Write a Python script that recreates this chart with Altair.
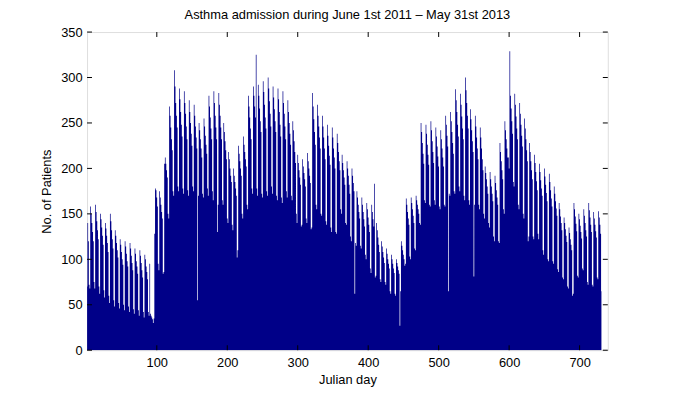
import altair as alt
import pandas as pd

# Daily asthma admissions, day 1 = June 1st 2011
days_001_096 = [
    70, 140, 120, 72, 68,
    158, 150, 140, 130, 120, 75, 68,
    160, 152, 142, 132, 122, 70, 62,
    150, 144, 135, 126, 116, 66, 58,
    140, 134, 126, 118, 108, 60, 52,
    150, 142, 132, 122, 112, 55, 48,
    132, 126, 118, 110, 102, 52, 46,
    122, 116, 108, 100, 94, 50, 44,
    120, 114, 106, 98, 92, 48, 42,
    118, 112, 104, 96, 88, 45, 40,
    112, 106, 98, 92, 84, 44, 38,
    110, 104, 96, 88, 80, 42, 36,
    105, 100, 92, 86, 78, 42, 38,
    95, 40, 38, 36, 34, 30, 35,
]
days_097_187 = [
    128, 178, 176, 168, 158, 95, 88,
    175, 168, 160, 152, 145, 84, 86,
    205, 212, 205, 198, 190, 150, 145,
    268, 258, 245, 232, 220, 175, 170,
    308, 290, 272, 258, 245, 180, 175,
    288, 276, 262, 248, 235, 178, 172,
    285, 272, 260, 246, 232, 176, 170,
    275, 262, 250, 238, 225, 180, 175,
    270, 258, 246, 234, 222, 55, 170,
    250, 242, 232, 222, 212, 172, 168,
    255, 246, 236, 226, 216, 178, 170,
    280, 268, 256, 244, 232, 175, 165,
    285, 272, 258, 245, 232, 130, 160,
]
days_188_278 = [
    283, 270, 258, 245, 232, 165, 160,
    250, 240, 230, 220, 210, 145, 140,
    218, 210, 200, 192, 185, 138, 132,
    200, 192, 185, 178, 170, 102, 110,
    225, 216, 208, 200, 192, 150, 145,
    235, 226, 218, 210, 202, 160, 155,
    280, 268, 256, 244, 232, 178, 172,
    290, 280, 268, 256, 325, 178, 170,
    292, 280, 266, 252, 240, 172, 168,
    296, 284, 270, 256, 244, 175, 170,
    300, 288, 274, 260, 246, 180, 172,
    290, 278, 265, 252, 240, 170, 165,
    288, 276, 262, 248, 235, 168, 162,
]
days_279_369 = [
    285, 272, 260, 246, 232, 175, 168,
    275, 262, 250, 238, 226, 170, 165,
    252, 242, 230, 218, 206, 150, 140,
    215, 206, 198, 190, 182, 136, 138,
    210, 202, 195, 188, 180, 145, 140,
    217, 208, 200, 192, 184, 133, 135,
    283, 268, 254, 240, 226, 160, 155,
    270, 258, 246, 234, 222, 150, 148,
    258, 246, 234, 222, 210, 142, 138,
    248, 236, 225, 214, 204, 135, 130,
    245, 234, 222, 212, 200, 130, 128,
    238, 228, 218, 208, 198, 155, 150,
    215, 206, 198, 190, 182, 140, 138,
]
days_370_460 = [
    208, 200, 192, 182, 172, 125, 120,
    200, 192, 184, 175, 62, 118, 115,
    175, 168, 160, 152, 145, 115, 112,
    168, 160, 152, 144, 136, 105, 100,
    162, 155, 146, 138, 130, 90, 85,
    160, 152, 144, 136, 183, 80, 82,
    140, 132, 124, 116, 108, 78, 75,
    120, 114, 108, 102, 96, 75, 72,
    112, 106, 100, 95, 90, 65, 62,
    105, 100, 95, 90, 85, 62, 60,
    100, 96, 92, 88, 84, 27, 65,
    120, 115, 110, 105, 100, 93, 95,
    167, 160, 152, 145, 138, 103, 100,
]
days_461_551 = [
    168, 162, 155, 148, 140, 112, 110,
    170, 165, 160, 155, 150, 140, 138,
    250, 240, 228, 216, 205, 165, 162,
    248, 238, 226, 215, 204, 160, 158,
    252, 242, 230, 218, 206, 165, 160,
    245, 235, 224, 213, 202, 158, 155,
    242, 232, 222, 212, 202, 160, 158,
    258, 248, 236, 224, 65, 172, 170,
    262, 252, 240, 228, 216, 175, 172,
    287, 275, 262, 248, 235, 180, 175,
    282, 270, 257, 244, 232, 170, 165,
    300, 286, 272, 258, 244, 165, 160,
    265, 254, 242, 230, 218, 81, 160,
]
days_552_642 = [
    258, 246, 234, 222, 210, 160, 155,
    245, 234, 222, 210, 198, 150, 145,
    202, 195, 188, 180, 172, 140, 135,
    196, 188, 180, 172, 164, 125, 120,
    192, 184, 176, 168, 160, 120, 118,
    228, 218, 208, 198, 188, 155, 150,
    252, 242, 232, 222, 212, 212, 200,
    329, 280, 266, 252, 238, 185, 180,
    282, 270, 257, 244, 232, 160, 155,
    272, 260, 248, 236, 224, 150, 145,
    255, 244, 232, 220, 208, 120, 125,
    228, 218, 208, 198, 188, 125, 122,
    215, 206, 196, 186, 176, 128, 122,
]
days_643_731 = [
    205, 196, 187, 178, 170, 110, 105,
    200, 191, 182, 173, 164, 100, 98,
    194, 185, 176, 167, 158, 98, 95,
    180, 172, 164, 156, 148, 89, 86,
    162, 155, 147, 140, 132, 80, 78,
    146, 140, 133, 126, 119, 70, 68,
    135, 129, 122, 116, 110, 60, 62,
    162, 155, 147, 139, 131, 82, 80,
    150, 144, 137, 130, 123, 90, 88,
    155, 148, 140, 132, 125, 75, 72,
    162, 154, 146, 138, 130, 72, 70,
    152, 145, 138, 131, 124, 80, 78,
    153, 146, 138, 128, 65,
]

x_ticks = [100, 200, 300, 400, 500, 600, 700]
y_ticks = [0, 50, 100, 150, 200, 250, 300, 350]

patients = (days_001_096 + days_097_187 + days_188_278 + days_279_369
            + days_370_460 + days_461_551 + days_552_642 + days_643_731)
df = pd.DataFrame({"day": list(range(1, len(patients) + 1)), "patients": patients})
xt = pd.DataFrame({"t": x_ticks})
yt = pd.DataFrame({"t": y_ticks})

FONT = "Liberation Sans"
NAVY = "#000088"
W, H, TICK = 527, 322, 5

xscale = alt.Scale(domain=[1, 740], nice=False, zero=False)
yscale = alt.Scale(domain=[0, 350], nice=False)

axis_style = dict(ticks=False, domain=False, grid=False,
                  labelFont=FONT, labelFontSize=13, labelColor="black",
                  titleFont=FONT, titleFontSize=13, titleColor="black",
                  titleFontWeight="normal")
x_axis = alt.Axis(orient="bottom", values=x_ticks, title="Julian day",
                  labelPadding=6, titlePadding=5, **axis_style)
y_axis = alt.Axis(orient="left", values=y_ticks, title="No. of Patients",
                  labelPadding=5, titlePadding=7, **axis_style)

# one bar per day, drawn as a step-shaped filled area (no seams between bars)
bars = (
    alt.Chart(df)
    .mark_area(color=NAVY, interpolate="step", opacity=1, clip=True)
    .encode(
        x=alt.X("day:Q", scale=xscale, axis=x_axis),
        y=alt.Y("patients:Q", scale=yscale, axis=y_axis),
        y2=alt.datum(0),
    )
)

tick_mark = dict(color="black", strokeWidth=1)
top_ticks = alt.Chart(xt).mark_rule(**tick_mark).encode(
    x=alt.X("t:Q", scale=xscale, axis=x_axis), y=alt.value(0), y2=alt.value(TICK))
bottom_ticks = alt.Chart(xt).mark_rule(**tick_mark).encode(
    x=alt.X("t:Q", scale=xscale, axis=x_axis), y=alt.value(H), y2=alt.value(H - TICK))
left_ticks = alt.Chart(yt).mark_rule(**tick_mark).encode(
    y=alt.Y("t:Q", scale=yscale, axis=y_axis), x=alt.value(0), x2=alt.value(TICK))
right_ticks = alt.Chart(yt).mark_rule(**tick_mark).encode(
    y=alt.Y("t:Q", scale=yscale, axis=y_axis), x=alt.value(W), x2=alt.value(W - TICK))

chart = (
    alt.layer(bars, top_ticks, bottom_ticks, left_ticks, right_ticks)
    .properties(
        width=W,
        height=H,
        autosize=alt.AutoSizeParams(type="none"),
        padding={"left": 80, "top": 22, "right": 65, "bottom": 45},
        title=alt.Title("Asthma admission during June 1st 2011 \u2013 May 31st 2013",
                        font=FONT, fontSize=13, fontWeight="normal", color="black",
                        anchor="middle", offset=4),
    )
    .configure_view(stroke="black", strokeWidth=1)
    .configure(background="white")
)

chart.save("out.html", embed_options={"renderer": "svg", "actions": False})
